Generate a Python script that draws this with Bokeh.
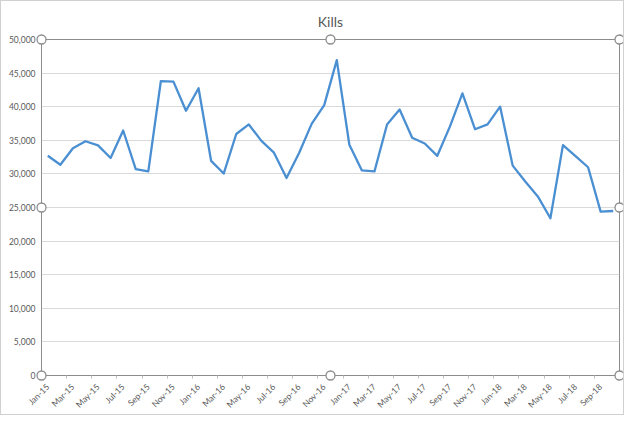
from bokeh.plotting import figure
from bokeh.models import FixedTicker, NumeralTickFormatter, Range1d
from bokeh.embed import file_html
from bokeh.resources import INLINE
import math

months = ["Jan-15","Feb-15","Mar-15","Apr-15","May-15","Jun-15","Jul-15","Aug-15","Sep-15","Oct-15","Nov-15","Dec-15",
          "Jan-16","Feb-16","Mar-16","Apr-16","May-16","Jun-16","Jul-16","Aug-16","Sep-16","Oct-16","Nov-16","Dec-16",
          "Jan-17","Feb-17","Mar-17","Apr-17","May-17","Jun-17","Jul-17","Aug-17","Sep-17","Oct-17","Nov-17","Dec-17",
          "Jan-18","Feb-18","Mar-18","Apr-18","May-18","Jun-18","Jul-18","Aug-18","Sep-18","Oct-18"]
kills = [32700, 31370, 33820, 34860, 34250, 32360, 36460, 30710, 30380, 43820, 43730, 39390,
         42740, 31930, 30050, 35940, 37360, 34910, 33160, 29390, 33110, 37450, 40240, 46930,
         34340, 30520, 30380, 37360, 39580, 35380, 34530, 32690, 37030, 41980, 36650, 37360,
         40000, 31230, 28870, 26650, 23400, 34290, 32640, 30990, 24390, 24480]
y_ticks = list(range(0, 50001, 5000))

FONT = "Lato"
GREY = "#595959"

x = list(range(len(months)))
x0, x1 = -0.5, len(months) - 0.5
y0, y1 = 0, 50000

p = figure(width=624, height=415, output_backend="svg", toolbar_location=None,
           x_range=Range1d(x0, x1), y_range=Range1d(y0, y1),
           min_border_left=40, min_border_right=6, min_border_top=37, min_border_bottom=31)
p.styles = {"border": "1px solid #d0d0d0"}

p.title.text = "Kills"
p.title.align = "center"
p.title.text_font = FONT
p.title.text_font_size = "14px"
p.title.text_font_style = "normal"
p.title.text_color = GREY
p.title.standoff = 19

p.outline_line_color = "#8c8c8c"
p.outline_line_width = 1

# grid
p.xgrid.visible = False
p.ygrid.ticker = FixedTicker(ticks=y_ticks)
p.ygrid.grid_line_color = "#d9d9d9"
p.ygrid.grid_line_width = 1

# y axis
p.yaxis.ticker = FixedTicker(ticks=y_ticks)
p.yaxis.formatter = NumeralTickFormatter(format="0,0")
p.yaxis.axis_line_color = None
p.yaxis.major_tick_line_color = None
p.yaxis.minor_tick_line_color = None
p.yaxis.major_tick_out = 0
p.yaxis.major_label_text_font = FONT
p.yaxis.major_label_text_font_size = "8.5px"
p.yaxis.major_label_text_color = GREY
p.yaxis.major_label_standoff = 6

# x axis
label_idx = list(range(0, len(months), 2))
p.xaxis.ticker = FixedTicker(ticks=label_idx, minor_ticks=[i + 1.5 for i in label_idx if i + 1.5 < x1])
p.xaxis.major_label_overrides = {i: months[i] for i in label_idx}
p.xaxis.axis_line_color = "#8c8c8c"
p.xaxis.major_tick_line_color = None
p.xaxis.minor_tick_line_color = "#bfbfbf"
p.xaxis.minor_tick_in = 0
p.xaxis.minor_tick_out = 3
p.xaxis.major_label_orientation = math.pi / 4
p.xaxis.major_label_text_font = FONT
p.xaxis.major_label_text_font_size = "8.5px"
p.xaxis.major_label_text_color = GREY
p.xaxis.major_label_standoff = 4

p.line(x, kills, line_color="#4a8fd2", line_width=2.3, line_join="round")

# selection handles around the plot area
xm = (x0 + x1) / 2
ym = (y0 + y1) / 2
hx = [x0, xm, x1, x0, x1, x0, xm, x1]
hy = [y1, y1, y1, ym, ym, y0, y0, y0]
p.scatter(hx, hy, size=9, fill_color="white", line_color="#8c8c8c", line_width=1.3, level="overlay")

open("out.html", "w").write(file_html(p, INLINE))
